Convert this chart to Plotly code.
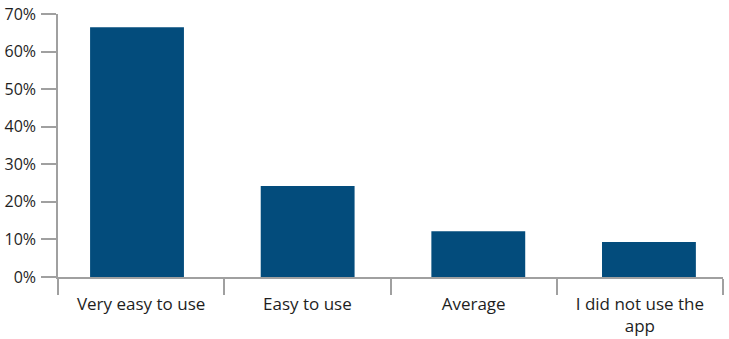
import plotly.graph_objects as go

categories = ["Very easy to use", "Easy to use", "Average", "I did not use the<br>app"]
shares = [66.5, 24.2, 12.2, 9.3]
y_ticks = [0, 10, 20, 30, 40, 50, 60, 70]

bar_color = "#034C7C"
axis_color = "#A0A0A0"
text_color = "#1E1E1E"
font_family = "'Open Sans', sans-serif"

fig = go.Figure()

# bars sit on their own (hidden) category axis, spaced slightly wider than the labelled one
fig.add_trace(
    go.Bar(
        x=categories,
        y=shares,
        xaxis="x2",
        marker=dict(color=bar_color, line=dict(width=0)),
        width=0.55,
        hoverinfo="skip",
    )
)

# invisible trace that carries the labelled category axis
fig.add_trace(
    go.Scatter(
        x=categories,
        y=[0] * len(categories),
        mode="markers",
        marker=dict(opacity=0),
        hoverinfo="skip",
    )
)

fig.update_layout(
    width=729,
    height=339,
    margin=dict(l=58, r=6, t=14, b=62),
    paper_bgcolor="white",
    plot_bgcolor="white",
    font=dict(family=font_family, size=16, color=text_color),
    showlegend=False,
    xaxis=dict(
        type="category",
        categoryarray=categories,
        range=[-0.5, len(categories) - 0.5],
        automargin=False,
        showline=True,
        linecolor=axis_color,
        linewidth=1.5,
        ticks="outside",
        tickson="boundaries",
        ticklen=16,
        tickwidth=1.5,
        tickcolor=axis_color,
        showgrid=False,
        ticklabelstandoff=11,
        tickfont=dict(family=font_family, size=17, color=text_color),
    ),
    xaxis2=dict(
        type="category",
        categoryarray=categories,
        overlaying="x",
        range=[-0.463, 3.434],
        visible=False,
    ),
    yaxis=dict(
        range=[0, 70],
        tickvals=y_ticks,
        ticktext=[f"{v}%" for v in y_ticks],
        automargin=False,
        showline=True,
        linecolor=axis_color,
        linewidth=1.5,
        ticks="outside",
        ticklen=15,
        tickwidth=1.5,
        tickcolor=axis_color,
        showgrid=False,
        zeroline=False,
        ticklabelstandoff=2,
        tickfont=dict(family=font_family, size=16, color=text_color),
    ),
)

fig.write_html("out.html")
